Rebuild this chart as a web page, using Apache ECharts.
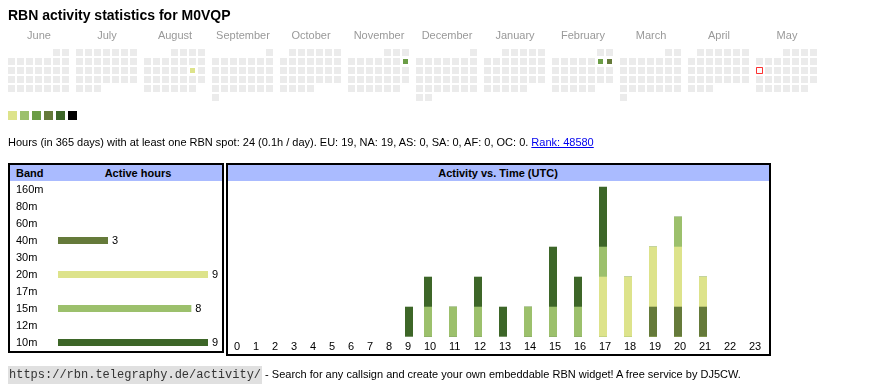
<!DOCTYPE html>
<html><head><meta charset="utf-8">
<script src="https://cdn.jsdelivr.net/npm/echarts@6/dist/echarts.min.js"></script>
<style>
html,body{margin:0;padding:0;width:870px;height:390px;overflow:hidden;background:#fff;font-family:"Liberation Sans",Arial,sans-serif;color:#000;}
#chart{position:absolute;left:0;top:0;width:870px;height:390px;}
.t{position:absolute;white-space:nowrap;line-height:11px;font-size:11px;}
.box{position:absolute;box-sizing:border-box;border:2px solid #000;pointer-events:none;}
.hdr{position:absolute;background:#aabbff;height:16px;}
.mlab{position:absolute;top:30px;font-size:11px;line-height:11px;color:#999;transform:translateX(-50%);white-space:nowrap;}
code{font-family:"Liberation Mono","DejaVu Sans Mono",monospace;font-size:12px;background:#e0e0e0;padding:2px 1px;color:#333;}
</style></head><body>
<div id="chart"></div>
<div class="t" style="left:8px;top:8px;font-size:14px;line-height:14px;font-weight:bold;">RBN activity statistics for M0VQP</div>
<div id="months"></div>
<div class="t" style="left:8px;top:137px;">Hours (in 365 days) with at least one RBN spot: 24 (0.1h / day). EU: 19, NA: 19, AS: 0, SA: 0, AF: 0, OC: 0. <a href="#" style="color:#00e;text-decoration:underline;">Rank: 48580</a></div>
<div class="hdr" style="left:10px;top:165px;width:212px;"></div>
<div class="t" style="left:16px;top:168px;font-weight:bold;">Band</div>
<div class="t" style="left:138px;top:168px;font-weight:bold;transform:translateX(-50%);">Active hours</div>
<div class="box" style="left:8px;top:163px;width:216px;height:190px;"></div>
<div class="hdr" style="left:228px;top:165px;width:541px;"></div>
<div class="t" style="left:498px;top:168px;font-weight:bold;transform:translateX(-50%);">Activity vs. Time (UTC)</div>
<div class="box" style="left:226px;top:163px;width:545px;height:193px;"></div>
<div class="t" style="left:8px;top:369px;"><code>https://rbn.telegraphy.de/activity/</code> - Search for any callsign and create your own embeddable RBN widget! A free service by DJ5CW.</div>
<script>
// ---- data ----
const months = ['2024-06','2024-07','2024-08','2024-09','2024-10','2024-11','2024-12','2025-01','2025-02','2025-03','2025-04','2025-05'];
const monthNames = ['June','July','August','September','October','November','December','January','February','March','April','May'];
const activeDays = ['2024-08-17','2024-11-10','2025-02-08','2025-02-09'];
const activeLevels = [1,3,3,4];
const today = '2025-05-12';
const levels = [1,2,3,4,5,6];
const bands = ['160m','80m','60m','40m','30m','20m','17m','15m','12m','10m'];
const bandHours = [0,0,0,3,0,9,0,8,0,9];
const hourLabels = ['0','1','2','3','4','5','6','7','8','9','10','11','12','13','14','15','16','17','18','19','20','21','22','23'];
const hours40m = [0,0,0,0,0,0,0,0,0,0,0,0,0,0,0,0,0,0,0,1,1,1,0,0];
const hours20m = [0,0,0,0,0,0,0,0,0,0,0,0,0,0,0,0,0,2,2,2,2,1,0,0];
const hours15m = [0,0,0,0,0,0,0,0,0,0,1,1,1,0,1,1,1,1,0,0,1,0,0,0];
const hours10m = [0,0,0,0,0,0,0,0,0,1,1,0,1,1,0,2,1,2,0,0,0,0,0,0];

// ---- styles ----
const levelColors = ['#dde38b','#9cc06c','#6b9d46','#657a3a','#3d6628','#000000'];
const bandColor = {'40m': levelColors[3], '20m': levelColors[0], '15m': levelColors[1], '10m': levelColors[4]};
const FONT = '"Liberation Sans", Arial, sans-serif';

// month labels
const ml = document.getElementById('months');
monthNames.forEach((n, i) => {
  const d = document.createElement('div');
  d.className = 'mlab';
  d.style.left = (39 + 68 * i) + 'px';
  d.textContent = n;
  ml.appendChild(d);
});

const chart = echarts.init(document.getElementById('chart'), null, {renderer: 'canvas'});

const calendars = months.map((m, i) => ({
  orient: 'vertical', left: 7 + 68 * i, top: 48, cellSize: [9, 9], range: m,
  splitLine: {show: false},
  itemStyle: {color: '#ebebeb', borderColor: '#fff', borderWidth: 2},
  dayLabel: {show: false, firstDay: 1},
  monthLabel: {show: false}, yearLabel: {show: false}
}));

const heatSeries = months.map((m, i) => ({
  type: 'heatmap', coordinateSystem: 'calendar', calendarIndex: i,
  itemStyle: {borderColor: '#fff', borderWidth: 2},
  emphasis: {disabled: true},
  data: activeDays.map((d, k) => [d, activeLevels[k]]).filter(p => p[0].startsWith(m))
}));

// column layout of hour table (cell width grows with label length)
const colW = hourLabels.map(h => 13 + 6 * h.length);
const colStart = [];
colW.reduce((acc, w, i) => { colStart[i] = acc; return acc + w; }, 0);
const totalW = colW.reduce((a, b) => a + b, 0);
const labelPos = colStart.map(s => s + 6);
const barPos = colStart.map(s => s + 10);

// stacked bars (bottom to top: 40m, 20m, 15m, 10m) drawn as overlapping cumulative bars
const stackBands = [['40m', hours40m], ['20m', hours20m], ['15m', hours15m], ['10m', hours10m]];
const cumulative = [];
stackBands.forEach(([b, arr], k) => {
  cumulative[k] = arr.map((v, i) => v + (k > 0 ? cumulative[k - 1][i] : 0));
});
const stackMax = Math.max(...cumulative[cumulative.length - 1]);
const timeSeries = stackBands.map(([b], k) => ({
  type: 'bar', name: b, xAxisIndex: 1, yAxisIndex: 1, barWidth: 8, barGap: '-100%',
  z: 10 - k,
  itemStyle: {color: bandColor[b]},
  emphasis: {disabled: true},
  data: cumulative[k].map((v, i) => [barPos[i], v])
})).reverse();

const option = {
  animation: false,
  calendar: calendars,
  visualMap: {
    type: 'piecewise', orient: 'horizontal', left: 8, top: 111, padding: 0,
    itemWidth: 9, itemHeight: 9, itemGap: 3, itemSymbol: 'rect', showLabel: false,
    selectedMode: false, seriesIndex: heatSeries.map((s, i) => i),
    pieces: levels.map((l, i) => ({value: l, color: levelColors[i]}))
  },
  grid: [
    {left: 58, top: 181, width: 150, height: 170},
    {left: 228, top: 186.7, width: totalW, height: 150}
  ],
  xAxis: [
    {gridIndex: 0, type: 'value', min: 0, max: Math.max(...bandHours), show: false},
    {gridIndex: 1, type: 'value', min: 0, max: totalW,
     axisLine: {show: false}, axisTick: {show: false}, splitLine: {show: false},
     axisLabel: {customValues: labelPos, formatter: v => hourLabels[labelPos.indexOf(v)],
       align: 'left', margin: 5, fontSize: 11, color: '#000', fontFamily: FONT}}
  ],
  yAxis: [
    {gridIndex: 0, type: 'category', inverse: true, data: bands,
     axisLine: {show: false}, axisTick: {show: false}, splitLine: {show: false},
     axisLabel: {align: 'left', margin: 42, fontSize: 11, color: '#000', fontFamily: FONT}},
    {gridIndex: 1, type: 'value', min: 0, max: stackMax, show: false}
  ],
  series: [
    ...heatSeries,
    {type: 'scatter', coordinateSystem: 'calendar', calendarIndex: 11, symbol: 'rect', symbolSize: 6,
     itemStyle: {color: '#fff', borderColor: '#ff0000', borderWidth: 1}, emphasis: {disabled: true},
     data: [[today, 1]]},
    {type: 'bar', xAxisIndex: 0, yAxisIndex: 0, barWidth: 7, emphasis: {disabled: true},
     data: bandHours.map((v, i) => ({value: v, itemStyle: {color: bandColor[bands[i]] || '#000'}})),
     label: {show: true, position: 'right', distance: 4, fontSize: 11, color: '#000', fontFamily: FONT,
       formatter: p => p.value > 0 ? String(p.value) : ''}},
    ...timeSeries
  ]
};
chart.setOption(option);
</script>
</body></html>
